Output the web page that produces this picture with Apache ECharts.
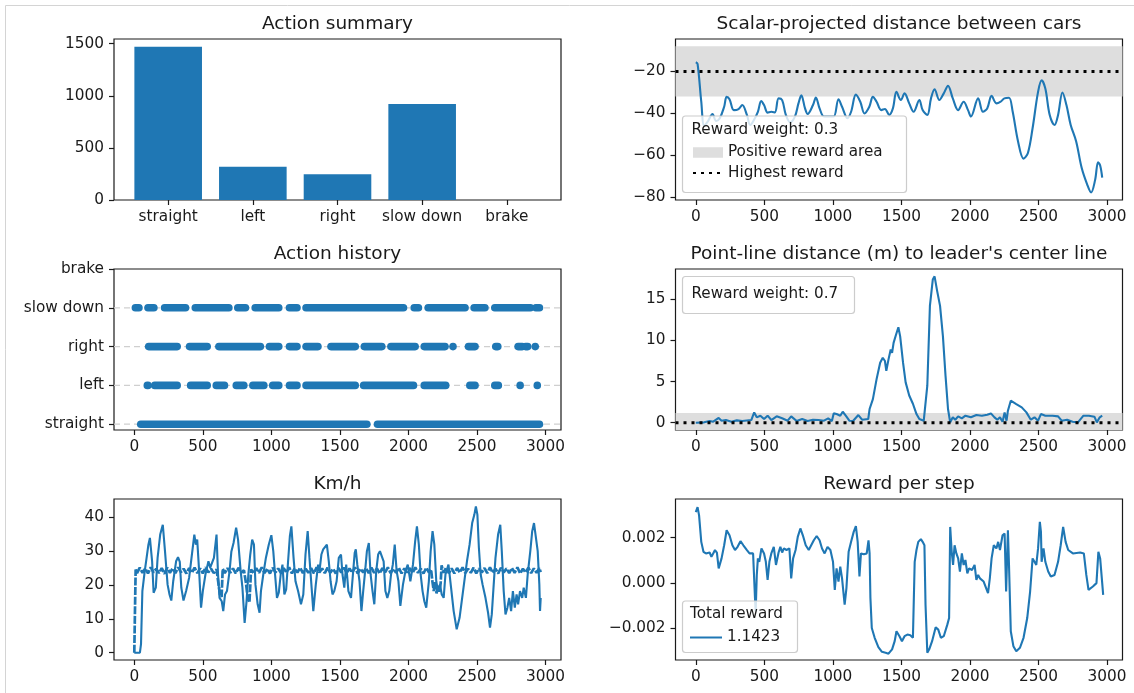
<!DOCTYPE html>
<html><head><meta charset="utf-8">
<script src="https://cdn.jsdelivr.net/npm/echarts@6/dist/echarts.min.js"></script>
<style>html,body{margin:0;padding:0;background:#fff}#c{width:1134px;height:693px}</style>
</head><body><div id="c"></div><script>
// ---------------- data ----------------
const ACTION_NAMES = ['straight', 'left', 'right', 'slow down', 'brake'];
const ACTION_COUNTS = [1471, 319, 246, 922, 0];

// Action history: runs of consecutive steps [firstStep, lastStep] per action
const RUNS_STRAIGHT = [[47,1697],[1774,2956]];
const RUNS_LEFT = [[95,100],[149,313],[411,532],[598,658],[744,799],[865,945],[1010,1054],[1132,1187],[1253,1612],[1673,2037],[2115,2272],[2448,2486],[2630,2656],[2815,2815],[2940,2940]];
const RUNS_RIGHT = [[105,313],[403,532],[617,920],[986,1054],[1132,1187],[1253,1340],[1435,1612],[1678,1806],[1872,2049],[2115,2267],[2325,2325],[2438,2486],[2637,2652],[2800,2830],[2855,2870],[2925,2925]];
const RUNS_SLOWDOWN = [[8,34],[100,143],[221,374],[445,690],[755,811],[882,1054],[1132,1187],[1253,1964],[2042,2073],[2144,2413],[2479,2558],[2630,2890],[2930,2956]];
const HISTORY_ROWS = [0, 1, 2, 3];

const SCALAR_DIST = [[0,-15.6],[13,-16.4],[40,-34.5],[61,-45.9],[87,-44],[122,-40.4],[148,-43.7],[175,-42.4],[207,-36.9],[225,-32.2],[246,-33.3],[278,-38.5],[312,-38],[339,-36.1],[373,-40.8],[397,-45.6],[418,-44],[453,-39.3],[477,-34.2],[498,-36.1],[524,-39.7],[551,-39.3],[577,-39.6],[604,-32.9],[630,-33.7],[657,-40.8],[688,-44.3],[723,-41.6],[749,-35.3],[770,-31.4],[797,-37.7],[816,-40.4],[855,-36.1],[876,-32.5],[903,-37.7],[935,-41.6],[967,-41.6],[1006,-41.6],[1041,-33.3],[1067,-36.9],[1107,-42.4],[1133,-39.3],[1168,-31.1],[1200,-34.5],[1231,-40.1],[1266,-36.9],[1292,-32.2],[1319,-34.5],[1353,-38.5],[1380,-38],[1411,-40.8],[1438,-37.7],[1464,-29.8],[1496,-33.7],[1523,-30.5],[1557,-35.3],[1589,-39.3],[1631,-33.7],[1655,-38.5],[1689,-40.8],[1716,-32.9],[1742,-28.5],[1777,-33.7],[1809,-30.5],[1840,-26.9],[1875,-32.9],[1914,-38.5],[1954,-34.5],[1986,-38.5],[2007,-41.6],[2060,-32.9],[2095,-39.3],[2126,-37.7],[2158,-31.7],[2193,-35.3],[2224,-34.5],[2251,-32.9],[2285,-32.6],[2312,-39.3],[2351,-53.5],[2391,-61.7],[2423,-59],[2457,-47.2],[2497,-29.8],[2523,-24.3],[2550,-28.2],[2582,-40.8],[2617,-45.6],[2643,-40.8],[2675,-30.1],[2704,-36.1],[2735,-45.6],[2775,-53.5],[2815,-66.1],[2855,-74],[2884,-77.9],[2913,-72],[2935,-63.5],[2950,-65],[2965,-70.8]];
const SCALAR_BAND = [-32, -8];      // positive reward area
const SCALAR_BEST = -20;            // highest reward

const POINT_LINE = [[0,0],[61,0.04],[101,0.2],[127,0.12],[167,0.57],[188,0.24],[220,0.32],[260,0.12],[299,0.28],[339,0.2],[405,0.32],[426,1.25],[445,0.65],[471,0.85],[498,0.44],[524,0.85],[551,0.32],[590,0.77],[630,0.53],[670,0.24],[696,0.77],[736,0.2],[776,0.44],[816,0.2],[855,0.36],[895,0.32],[935,0.24],[966,0.53],[993,0.2],[1006,1.13],[1027,1.05],[1054,0.85],[1072,1.33],[1094,0.85],[1120,0.24],[1147,0.2],[1186,0.93],[1213,0.36],[1258,0.44],[1268,1.66],[1292,2.87],[1319,5.3],[1345,7.3],[1364,7.9],[1380,7.5],[1390,6.3],[1406,7.7],[1422,8.9],[1432,8.5],[1443,9.7],[1459,10.6],[1478,11.6],[1491,10.5],[1512,7.3],[1531,4.9],[1557,3.3],[1584,2.3],[1610,1.05],[1631,0.44],[1663,0.24],[1676,0.04],[1689,4.5],[1708,14.2],[1729,17.4],[1742,17.8],[1761,16],[1782,14.2],[1803,10.5],[1822,5.7],[1840,1.66],[1856,0.04],[1875,0.65],[1893,0.36],[1914,0.77],[1941,0.53],[1967,0.85],[2007,0.65],[2047,0.93],[2087,0.85],[2126,0.97],[2153,1.13],[2179,0.65],[2200,0.36],[2219,0.65],[2238,0.12],[2253,1.25],[2267,0.24],[2277,1.46],[2298,2.67],[2338,2.26],[2378,1.86],[2412,1.25],[2444,0.36],[2471,0.65],[2497,0.24],[2518,1.05],[2550,0.85],[2603,0.85],[2643,0.77],[2669,0.24],[2709,0.36],[2749,0.12],[2788,0.04],[2828,0.85],[2868,0.85],[2908,0.73],[2926,0.04],[2947,0.65],[2965,0.85]];
const POINT_BAND = [-1.2, 1.17];
const POINT_BEST = 0;

const KMH_SPEED = [[0,0],[41,0],[49,2.5],[59,18.2],[76,24],[89,27.8],[103,31.9],[114,33.9],[130,27],[141,17.7],[157,19.2],[170,28],[189,34.9],[208,37.8],[224,30],[243,20.1],[257,17.2],[270,15.4],[284,21.1],[305,27],[319,28.2],[332,26.8],[343,19.2],[359,15.4],[378,18.2],[400,22.1],[419,28.5],[438,34.9],[449,31.9],[459,33.4],[473,24.1],[487,13.3],[500,18.2],[519,23.1],[541,27],[554,25.1],[568,25.1],[581,28],[600,34.9],[611,23.1],[622,16.2],[638,15.2],[649,12.3],[662,17.2],[676,18.2],[695,24.1],[708,29.8],[724,32.4],[743,36.9],[757,33.4],[776,24.1],[789,19.2],[805,8.8],[819,15.2],[832,23.1],[846,29],[860,33.4],[873,31.9],[884,20.1],[900,14.3],[914,11.8],[924,18.2],[941,23.1],[960,28],[981,31.9],[1000,34.7],[1014,30],[1027,23.1],[1041,16.2],[1054,17.7],[1068,23.1],[1081,26],[1095,17.2],[1108,18.7],[1122,27],[1135,34.4],[1146,37.3],[1162,28],[1176,21.1],[1195,18.2],[1216,14.3],[1233,17.2],[1249,29],[1265,35.9],[1278,28],[1292,20.1],[1306,12.3],[1324,20.1],[1341,26],[1351,24.1],[1365,29],[1378,30.5],[1392,30],[1405,31.9],[1419,27],[1432,21.1],[1446,17.2],[1459,18.2],[1476,21.1],[1492,28],[1508,29],[1519,23.1],[1532,19.2],[1546,26],[1562,18.2],[1581,16.2],[1595,23.1],[1608,29.5],[1616,30.5],[1627,26],[1643,21.1],[1657,12.3],[1670,18.2],[1684,24.1],[1697,30],[1711,32.4],[1724,23.1],[1738,18.2],[1751,14.3],[1765,24.1],[1779,29],[1792,30],[1805,29.5],[1819,27],[1832,18.2],[1846,16.2],[1860,18.2],[1873,23.1],[1886,26],[1900,31.9],[1914,24.1],[1927,21.1],[1941,13.8],[1960,20.1],[1978,24.1],[1995,26],[2014,21.1],[2033,26],[2049,32.9],[2062,37.3],[2076,31.9],[2089,23.1],[2103,18.2],[2116,15.2],[2130,13.3],[2149,21.1],[2162,30],[2176,35.9],[2189,31.9],[2203,21.1],[2216,18.2],[2230,20.1],[2243,17.2],[2257,16.2],[2270,23.1],[2292,26],[2311,19.2],[2330,12.3],[2352,6.9],[2373,10.3],[2392,16.2],[2411,22.1],[2427,27],[2446,31.9],[2465,38.3],[2481,40.8],[2492,43.2],[2503,40.8],[2514,31],[2527,23.1],[2541,20.1],[2562,16.2],[2581,11.8],[2595,7.4],[2608,11.3],[2622,20.1],[2635,28],[2654,34.9],[2670,37.8],[2681,30],[2695,18.2],[2708,11.3],[2722,13.3],[2735,16.2],[2749,12.3],[2762,18.2],[2776,13.3],[2789,17.2],[2800,14.3],[2814,18.2],[2830,16.2],[2841,19.2],[2857,16.2],[2870,23.1],[2889,30],[2903,35.9],[2916,38.3],[2930,37.8],[2943,30],[2955,20.1],[2960,12.3],[2965,16.2]];
const KMH_TARGET = [[0,0],[10,24.6],[20,23.5],[40,25.1],[60,23.6],[80,24.9],[100,23.4],[120,25.2],[140,23.7],[160,24.8],[180,23.5],[200,25.0],[220,23.3],[240,25.1],[260,23.6],[280,24.9],[300,23.5],[320,25.2],[340,23.8],[360,24.8],[380,23.4],[400,25.0],[420,23.6],[440,25.1],[460,23.5],[480,24.9],[500,23.4],[520,25.2],[540,23.7],[560,24.8],[580,23.5],[600,24.6],[612,21.0],[625,17.2],[637,16.5],[645,24.8],[660,23.5],[680,25.0],[700,23.6],[720,24.9],[740,23.4],[760,25.1],[780,23.6],[800,24.4],[815,20.5],[828,16.0],[840,14.8],[852,24.6],[870,23.5],[890,25.0],[910,23.6],[930,25.2],[950,23.5],[970,24.8],[990,23.4],[1010,25.1],[1030,23.7],[1050,24.9],[1070,23.5],[1090,25.0],[1110,23.6],[1130,25.2],[1150,23.4],[1170,24.9],[1190,23.7],[1210,25.1],[1230,23.5],[1250,24.8],[1270,23.6],[1290,25.0],[1310,23.4],[1330,25.2],[1350,23.7],[1370,24.9],[1390,23.5],[1410,25.1],[1430,23.6],[1450,24.8],[1470,23.4],[1490,25.0],[1510,23.7],[1530,25.1],[1550,23.5],[1570,24.9],[1590,23.6],[1610,25.2],[1630,23.4],[1650,24.8],[1670,23.7],[1690,25.0],[1710,23.5],[1730,25.1],[1750,23.6],[1770,24.9],[1790,23.4],[1810,25.0],[1830,23.7],[1850,25.2],[1870,23.5],[1890,24.8],[1910,23.6],[1930,25.1],[1950,23.4],[1970,24.9],[1990,23.7],[2010,25.0],[2030,23.5],[2050,25.2],[2070,23.6],[2090,24.8],[2110,23.4],[2130,25.1],[2150,23.7],[2165,24.6],[2175,21.0],[2185,18.2],[2195,20.8],[2205,17.5],[2215,19.8],[2225,18.0],[2235,20.5],[2242,25.8],[2255,23.6],[2275,25.1],[2295,23.5],[2315,24.9],[2335,23.4],[2355,25.0],[2375,23.7],[2395,25.2],[2415,23.5],[2435,24.8],[2455,23.6],[2475,25.1],[2495,23.4],[2515,24.9],[2535,23.7],[2555,25.0],[2575,23.5],[2595,25.2],[2615,23.6],[2635,24.8],[2655,23.4],[2675,25.1],[2695,23.7],[2715,24.9],[2735,23.5],[2755,25.0],[2775,23.6],[2795,25.2],[2815,23.4],[2835,24.8],[2855,23.7],[2875,25.1],[2895,23.5],[2915,24.9],[2935,23.6],[2955,25.0],[2965,23.8]];

const REWARD = [[0,0.00312],[8,0.0032],[13,0.00334],[24,0.00298],[40,0.00181],[56,0.00137],[74,0.0013],[101,0.00134],[114,0.00115],[127,0.0013],[140,0.00145],[154,0.00134],[167,0.00064],[188,0.00108],[207,0.00166],[225,0.00232],[246,0.0021],[267,0.00166],[286,0.00145],[305,0.00159],[326,0.00184],[347,0.00166],[373,0.00145],[392,0.0013],[405,0.00137],[418,0.0013],[432,-0.00067],[437,-0.00126],[445,0.00035],[453,0.00108],[463,0.00093],[479,0.00152],[498,0.0013],[511,0.00093],[524,0.00013],[537,0.00093],[551,0.0013],[569,0.00159],[585,0.00079],[604,0.00134],[617,0.00159],[630,0.00134],[643,0.00152],[662,0.00145],[683,0.00152],[696,0.0002],[710,0.00108],[728,0.00145],[744,0.00203],[763,0.0024],[781,0.0021],[802,0.00166],[824,0.00145],[842,0.00166],[861,0.00188],[882,0.00207],[903,0.00188],[921,0.00152],[940,0.0013],[961,0.00159],[982,0.00145],[1001,0.00093],[1014,-0.00031],[1027,0.00064],[1041,0.00006],[1054,0.00072],[1067,0.0002],[1086,-0.00096],[1099,-0.00023],[1115,0.00137],[1133,0.00181],[1152,0.00225],[1168,0.0025],[1181,0.00181],[1194,0.00028],[1205,0.0013],[1226,0.00126],[1247,0.0013],[1260,0.00188],[1268,0.0013],[1274,-0.00067],[1284,-0.00199],[1305,-0.00242],[1332,-0.00283],[1358,-0.00304],[1385,-0.00308],[1406,-0.00312],[1432,-0.00293],[1451,-0.00257],[1464,-0.00213],[1486,-0.00235],[1504,-0.00257],[1523,-0.00235],[1544,-0.00228],[1565,-0.00231],[1584,-0.00242],[1597,0.00093],[1610,0.00145],[1623,0.00181],[1642,0.00193],[1655,0.00181],[1668,0.00166],[1676,-0.00096],[1689,-0.00308],[1703,-0.00293],[1724,-0.00257],[1750,-0.00196],[1769,-0.00206],[1788,-0.00242],[1809,-0.00235],[1835,-0.00184],[1848,-0.00155],[1856,0.00247],[1867,0.00137],[1877,0.00079],[1888,0.00166],[1901,0.0013],[1914,0.00108],[1927,0.0005],[1941,0.0013],[1954,0.00079],[1967,0.00101],[1981,0.00042],[1994,0.00064],[2015,0.00057],[2034,0.00079],[2047,0.00013],[2060,0.00035],[2073,0.0002],[2100,0.00006],[2113,0.00013],[2132,-0.00045],[2145,0.0002],[2158,0.00108],[2174,0.00166],[2193,0.00152],[2206,0.00181],[2219,0.00145],[2238,0.0021],[2253,0.00218],[2264,-0.00038],[2277,0.00232],[2285,0.00079],[2298,-0.00213],[2317,-0.00279],[2338,-0.00301],[2365,-0.00286],[2391,-0.00242],[2418,-0.00155],[2439,-0.00038],[2457,0.00108],[2471,0.00093],[2484,0.00079],[2497,0.00152],[2510,0.00269],[2518,0.00225],[2523,0.00093],[2537,0.00152],[2550,0.00093],[2571,0.0005],[2590,0.00028],[2617,0.00035],[2643,0.00093],[2662,0.00166],[2680,0.00247],[2698,0.00181],[2717,0.00145],[2751,0.0013],[2804,0.00134],[2831,0.0013],[2849,0.00035],[2865,-0.00031],[2897,-0.00016],[2923,-0.00001],[2937,0.00137],[2950,0.00108],[2963,0.00013],[2972,-0.00053]];
const TOTAL_REWARD = '1.1423';

// tick labels
const STEP_TICKS = [0, 500, 1000, 1500, 2000, 2500, 3000];
const COUNT_TICKS = [0, 500, 1000, 1500];
const SCALAR_TICKS = [-80, -60, -40, -20];
const POINT_TICKS = [0, 5, 10, 15];
const KMH_TICKS = [0, 10, 20, 30, 40];
const REWARD_TICKS = [-0.002, 0, 0.002];

// ---------------- layout / style ----------------
const BLUE = '#1f77b4';
const INK = '#1a1a1a';
const FONT = 'DejaVu Sans';
const TICK_FS = 15.3, TITLE_FS = 18.5, LEGEND_FS = 15.2;
const STEP_MIN = -148, STEP_MAX = 3113;
const COLS = [114, 675.5];
const ROWS = [39, 269, 499];
const GW = 447, GH = 161;
const minus = s => String(s).replace('-', '\u2212');

const grids = [];
for (let r = 0; r < 3; r++) for (let c = 0; c < 2; c++)
  grids.push({left: COLS[c], top: ROWS[r], width: GW, height: GH, show: true,
    borderColor: INK, borderWidth: 1.2, backgroundColor: 'transparent', containLabel: false});

function axis(type, gi, min, max, ticks, fmt) {
  return {type: 'value', gridIndex: gi, min: min, max: max,
    position: type === 'x' ? 'bottom' : 'left',
    axisLine: {show: false, onZero: false}, splitLine: {show: false},
    axisTick: {show: true, length: 5, inside: false, lineStyle: {color: INK, width: 1.2}, customValues: ticks},
    axisLabel: {show: true, customValues: ticks, margin: 10, fontSize: TICK_FS, color: INK, fontFamily: FONT,
      formatter: fmt || (v => minus(v))}};
}

const xAxes = [
  axis('x', 0, -0.64, 4.64, [0, 1, 2, 3, 4], v => ACTION_NAMES[Math.round(v)] || ''),
  axis('x', 1, STEP_MIN, STEP_MAX, STEP_TICKS),
  axis('x', 2, STEP_MIN, STEP_MAX, STEP_TICKS),
  axis('x', 3, STEP_MIN, STEP_MAX, STEP_TICKS),
  axis('x', 4, STEP_MIN, STEP_MAX, STEP_TICKS),
  axis('x', 5, STEP_MIN, STEP_MAX, STEP_TICKS)
];
const yAxes = [
  axis('y', 0, 0, 1545, COUNT_TICKS),
  axis('y', 1, -81.5, -4.5, SCALAR_TICKS),
  axis('y', 2, -0.15, 4, [0, 1, 2, 3, 4], v => ACTION_NAMES[Math.round(v)] || ''),
  axis('y', 3, -0.89, 18.69, POINT_TICKS),
  axis('y', 4, -2.16, 45.4, KMH_TICKS),
  axis('y', 5, -0.0034, 0.0037, REWARD_TICKS, v => (v < 0 ? '\u2212' : '') + Math.abs(v).toFixed(3))
];

function bandSeries(gi, band, name, color) {
  return {type: 'custom', name: name, xAxisIndex: gi, yAxisIndex: gi, z: 1, silent: true,
    itemStyle: {color: color},
    data: [band],
    renderItem: (params, api) => {
      const cs = params.coordSys;
      let y1 = api.coord([0, api.value(1)])[1];
      let y0 = api.coord([0, api.value(0)])[1];
      y1 = Math.max(y1, cs.y); y0 = Math.min(y0, cs.y + cs.height);
      return {type: 'rect', shape: {x: cs.x, y: y1, width: cs.width, height: y0 - y1}, style: {fill: color}};
    }};
}
function runSeries(runs, row) {
  return {type: 'custom', xAxisIndex: 2, yAxisIndex: 2, z: 3, silent: true,
    data: runs.map(r => [r[0], r[1], row]),
    encode: {x: [0, 1], y: 2},
    renderItem: (params, api) => {
      const a = api.coord([api.value(0), api.value(2)]);
      const b = api.coord([api.value(1), api.value(2)]);
      const r = 3.8;
      return {type: 'rect', shape: {x: a[0] - r, y: a[1] - r, width: b[0] - a[0] + 2 * r, height: 2 * r, r: r},
        style: {fill: BLUE}};
    }};
}
const lineBase = (gi, name, data, extra) => Object.assign({type: 'line', name: name, xAxisIndex: gi, yAxisIndex: gi,
  data: data, symbol: 'none', showSymbol: false, silent: true, z: 3,
  lineStyle: {color: BLUE, width: 2.1}, itemStyle: {color: BLUE}}, extra || {});

const series = [
  {type: 'bar', xAxisIndex: 0, yAxisIndex: 0, data: ACTION_COUNTS.map((v, i) => [i, v]), barWidth: 67.6,
    itemStyle: {color: BLUE}, silent: true},
  // scalar distance
  bandSeries(1, SCALAR_BAND, 'Positive reward area', '#dedede'),
  lineBase(1, 'Scalar distance', SCALAR_DIST, {smooth: 0.35}),
  lineBase(1, 'Highest reward', [[STEP_MIN, SCALAR_BEST], [STEP_MAX, SCALAR_BEST]],
    {lineStyle: {color: '#000', width: 3, type: [3, 5]}, itemStyle: {color: '#000'}, z: 4}),
  // action history
  {type: 'custom', xAxisIndex: 2, yAxisIndex: 2, z: 1, silent: true, data: HISTORY_ROWS.map(r => [r]),
    encode: {y: 0},
    renderItem: (params, api) => {
      const cs = params.coordSys;
      const y = api.coord([0, api.value(0)])[1];
      return {type: 'line', shape: {x1: cs.x, y1: y, x2: cs.x + cs.width, y2: y},
        style: {stroke: '#cfcfcf', lineWidth: 1.2, lineDash: [6, 4]}};
    }},
  runSeries(RUNS_STRAIGHT, 0), runSeries(RUNS_LEFT, 1), runSeries(RUNS_RIGHT, 2), runSeries(RUNS_SLOWDOWN, 3),
  // point-line distance
  bandSeries(3, POINT_BAND, 'Positive reward area ', '#dedede'),
  lineBase(3, 'Point-line distance', POINT_LINE),
  lineBase(3, 'Highest reward ', [[STEP_MIN, POINT_BEST], [STEP_MAX, POINT_BEST]],
    {lineStyle: {color: '#000', width: 3, type: [3, 5]}, z: 4}),
  // km/h
  lineBase(4, 'Speed', KMH_SPEED),
  lineBase(4, 'Target speed', KMH_TARGET, {lineStyle: {color: BLUE, width: 2.7, type: [8, 1.6]}}),
  // reward
  lineBase(5, TOTAL_REWARD, REWARD)
];

const legendText = {fontSize: LEGEND_FS, color: INK, fontFamily: FONT};
const legends = [
  {data: [{name: 'Positive reward area', icon: 'rect'}, {name: 'Highest reward', itemStyle: {opacity: 0}}],
    orient: 'vertical', left: 692, top: 145, itemWidth: 30, itemHeight: 10.5, itemGap: 5.5, padding: 0,
    selectedMode: false, textStyle: legendText, z: 70},
  {data: [{name: TOTAL_REWARD, itemStyle: {opacity: 0}}], orient: 'vertical', left: 689, top: 630,
    itemWidth: 32, itemHeight: 12, itemGap: 5, padding: 0, selectedMode: false, textStyle: legendText, z: 70}
];

const titles = [
  ['Action summary', 0, 0], ['Scalar-projected distance between cars', 1, 0],
  ['Action history', 0, 1], ["Point-line distance (m) to leader's center line", 1, 1],
  ['Km/h', 0, 2], ['Reward per step', 1, 2]
];
const graphics = [
  {type: 'line', shape: {x1: 5.5, y1: 5.5, x2: 1134, y2: 5.5}, style: {stroke: '#d4d4d4', lineWidth: 1}},
  {type: 'line', shape: {x1: 5.5, y1: 5.5, x2: 5.5, y2: 693}, style: {stroke: '#d4d4d4', lineWidth: 1}}
];
titles.forEach(t => graphics.push({type: 'text', x: COLS[t[1]] + GW / 2, y: ROWS[t[2]] - 15,
  style: {text: t[0], fontSize: TITLE_FS, fontFamily: FONT, fill: INK, align: 'center', verticalAlign: 'middle'}}));
// legend boxes and titles
const box = (x, y, w, h) => ({type: 'rect', z: 50, shape: {x: x, y: y, width: w, height: h, r: 3},
  style: {fill: 'rgba(255,255,255,0.8)', stroke: '#cccccc', lineWidth: 1.2}});
const ltitle = (x, y, s) => ({type: 'text', z: 60, x: x, y: y,
  style: {text: s, fontSize: LEGEND_FS, fontFamily: FONT, fill: INK, align: 'left', verticalAlign: 'middle'}});
graphics.push(box(682.5, 116, 224, 76.5), ltitle(691.5, 130.5, 'Reward weight: 0.3'));
graphics.push(box(682.5, 276.5, 172, 37), ltitle(691.5, 294, 'Reward weight: 0.7'));
graphics.push(box(682.5, 601, 115, 51.5), ltitle(690, 614.5, 'Total reward'));

const chart = echarts.init(document.getElementById('c'), null, {renderer: 'canvas'});
chart.setOption({
  animation: false,
  backgroundColor: '#fff',
  textStyle: {fontFamily: FONT},
  grid: grids, xAxis: xAxes, yAxis: yAxes, series: series, legend: legends, graphic: graphics
});
</script></body></html>
